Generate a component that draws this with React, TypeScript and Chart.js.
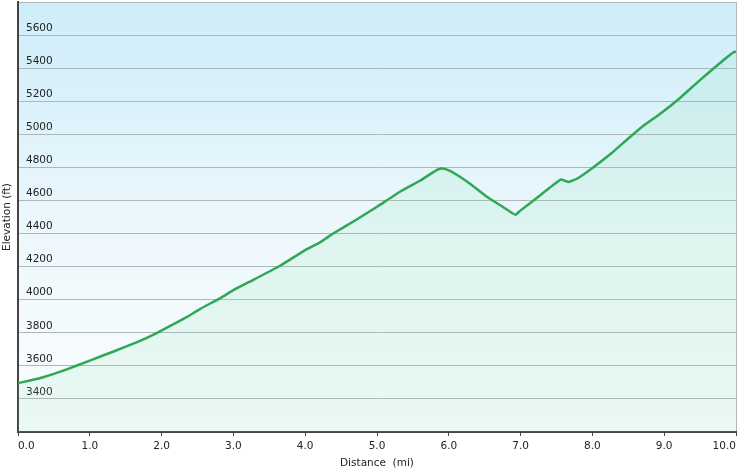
import React, { useEffect, useRef } from "react";
import { Chart, registerables } from "chart.js";

Chart.register(...registerables);

const distances = [0, 0.3, 0.66, 1.0, 1.35, 1.65, 1.91, 2.33, 2.54, 2.82, 3.0, 3.3, 3.65, 4.0, 4.2, 4.39, 4.7, 5.0, 5.33, 5.61, 5.78, 5.85, 5.91, 6.0, 6.16, 6.3, 6.53, 6.75, 6.88, 6.93, 7.0, 7.18, 7.4, 7.56, 7.67, 7.79, 8.02, 8.26, 8.5, 8.72, 8.95, 9.2, 9.47, 9.74, 9.9, 9.97, 10.0];
const elevations = [3495, 3525, 3576, 3632, 3690, 3742, 3794, 3890, 3945, 4010, 4058, 4125, 4205, 4300, 4345, 4400, 4480, 4562, 4656, 4722, 4770, 4788, 4793, 4782, 4742, 4700, 4623, 4562, 4524, 4514, 4540, 4600, 4675, 4727, 4712, 4733, 4803, 4884, 4975, 5055, 5126, 5212, 5317, 5418, 5475, 5497, 5500];
const yMin = 3200;
const yMax = 5800;
const yStep = 200;
const xMin = 0;
const xMax = 10;
const xTitle = "Distance  (mi)";
const yTitle = "Elevation (ft)";

const FONT = "'DejaVu Sans', Verdana, sans-serif";

const bgPlugin = {
  id: "bgPlugin",
  beforeDraw(chart: any) {
    const { ctx, chartArea } = chart;
    if (!chartArea) return;
    const g = ctx.createLinearGradient(0, chartArea.top, 0, chartArea.bottom);
    g.addColorStop(0, "#cdedfa");
    g.addColorStop(0.55, "#eef8fc");
    g.addColorStop(1, "#fbfdfe");
    ctx.save();
    ctx.fillStyle = g;
    ctx.fillRect(chartArea.left, chartArea.top, chartArea.right - chartArea.left, chartArea.bottom - chartArea.top);
    ctx.restore();
  },
};

export default function App() {
  const ref = useRef<HTMLCanvasElement | null>(null);
  useEffect(() => {
    if (!ref.current) return;
    const points = distances.map((d, i) => ({ x: d, y: elevations[i] }));
    const chart = new Chart(ref.current, {
      type: "line",
      data: {
        datasets: [
          {
            data: points,
            borderColor: "#2ea857",
            borderWidth: 2.5,
            pointRadius: 0,
            tension: 0.12,
            fill: "start",
            backgroundColor: "rgba(120, 225, 160, 0.13)",
          },
        ],
      },
      options: {
        animation: false,
        responsive: false,
        maintainAspectRatio: false,
        layout: { padding: { top: 2, right: 4, left: 0, bottom: 0 } },
        plugins: { legend: { display: false }, tooltip: { enabled: false } },
        scales: {
          x: {
            type: "linear",
            min: xMin,
            max: xMax,
            afterFit: (s: any) => {
              s.height = 42;
              s.paddingLeft = 0;
              s.paddingRight = 0;
            },
            ticks: {
              stepSize: 1,
              align: "inner",
              padding: 4,
              maxRotation: 0,
              color: "#222",
              font: { family: FONT, size: 10.5 },
              callback: (v: any) => Number(v).toFixed(1),
            },
            grid: {
              color: (c: any) => (c.tick && c.tick.value === xMax ? "#aeb7bb" : "rgba(0,0,0,0)"),
              tickColor: "#444",
              tickLength: 4,
              drawTicks: true,
            },
            border: { color: "#444", width: 2 },
            title: {
              display: true,
              text: xTitle,
              color: "#222",
              font: { family: FONT, size: 10.5 },
              padding: { top: 0, bottom: 4 },
            },
          },
          y: {
            type: "linear",
            min: yMin,
            max: yMax,
            afterFit: (s: any) => {
              s.width = 18;
              s.paddingTop = 0;
              s.paddingBottom = 0;
            },
            ticks: {
              stepSize: yStep,
              mirror: true,
              padding: 8,
              labelOffset: -7,
              color: "#222",
              font: { family: FONT, size: 10.5 },
              callback: (v: any) => (v === yMin || v === yMax ? "" : String(v)),
            },
            grid: {
              color: (c: any) => (c.tick && c.tick.value === yMin ? "rgba(0,0,0,0)" : "#aeb7bb"),
              drawTicks: false,
            },
            border: { color: "#444", width: 2 },
            title: {
              display: true,
              text: yTitle,
              color: "#222",
              font: { family: FONT, size: 10.5 },
              padding: { top: 1, bottom: 0 },
            },
          },
        },
      },
      plugins: [bgPlugin],
    } as any);
    return () => chart.destroy();
  }, []);
  return (
    <div style={{ position: "fixed", left: 0, top: 0, width: 740, height: 474, background: "#fff" }}>
      <canvas ref={ref} width={740} height={474} style={{ width: 740, height: 474, display: "block" }} />
    </div>
  );
}
